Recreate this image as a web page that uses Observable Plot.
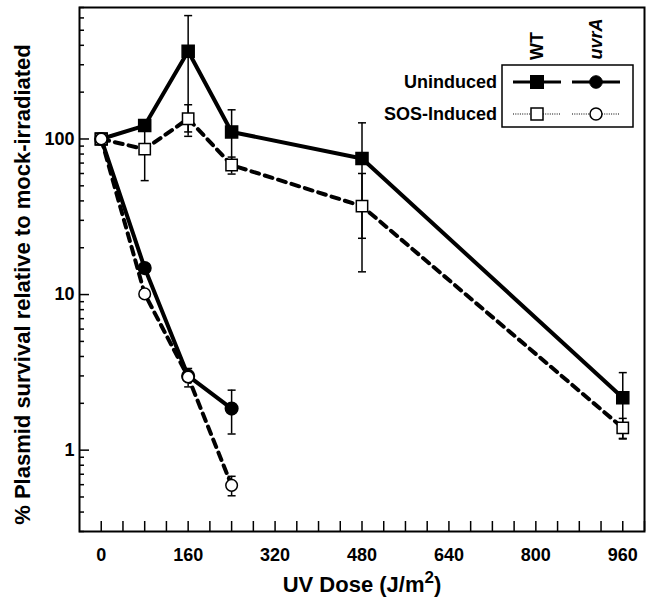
<!DOCTYPE html>
<html><head><meta charset="utf-8">
<script src="https://cdn.jsdelivr.net/npm/d3@7"></script>
<script src="https://cdn.jsdelivr.net/npm/@observablehq/plot@0.6"></script>
<style>
body{margin:0;background:#fff;}
#wrap{position:relative;width:654px;height:605px;}
#wrap svg{position:absolute;left:0;top:0;}
</style></head><body><div id="wrap"></div>
<script>
// ---- data ----
const doses = [0, 80, 160, 240, 480, 960];
const wtUninduced = [100, 122, 366, 111, 75, 2.17];
const wtUninducedErr = [0, 0, 255, 43, 52, 0.98];
const wtInduced = [100, 86, 135, 68, 37, 1.39];
const wtInducedErr = [0, 32, 31, 8.5, 23, 0.21];
const uvrDoses = [0, 80, 160, 240];
const uvrUninduced = [100, 14.8, 3.0, 1.85];
const uvrUninducedErr = [0, 0, 0, 0.58];
const uvrInduced = [100, 10.1, 2.95, 0.594];
const uvrInducedErr = [0, 0, 0.4, 0.085];
const xLabelTicks = [0, 160, 320, 480, 640, 800, 960];
const yLabelTicks = [1, 10, 100];
const xTitle = "UV Dose (J/m2)";
const yTitle = "% Plasmid survival relative to mock-irradiated";
const legendStrains = ["WT", "uvrA"];
const legendConds = ["Uninduced", "SOS-Induced"];

const series = (xs, ys, es) => xs.map((x, i) => ({dose: x, value: ys[i], err: es[i]}));
const wtU = series(doses, wtUninduced, wtUninducedErr);
const wtI = series(doses, wtInduced, wtInducedErr);
const uvU = series(uvrDoses, uvrUninduced, uvrUninducedErr);
const uvI = series(uvrDoses, uvrInduced, uvrInducedErr);
const errs = [...wtU, ...wtI, ...uvU, ...uvI].filter(d => d.err > 0);
const caps = errs.flatMap(d => [{dose: d.dose, value: d.value + d.err}, {dose: d.dose, value: d.value - d.err}]);

const yMajor = yLabelTicks;
const yMinor = [];
for (const dec of [0.1, 1, 10, 100]) for (let k = 2; k <= 9; k++) { const v = +(k * dec).toPrecision(3); if (v >= 0.3 && v <= 700) yMinor.push(v); }
const xTicks = d3.range(0, 1001, 40);

const capSymbol = {draw(ctx, size) { const w = Math.sqrt(size / Math.PI); ctx.moveTo(-w, 0); ctx.lineTo(w, 0); }};
const font = "Liberation Sans, Arial, Helvetica, sans-serif";

const chart = Plot.plot({
  width: 654, height: 605,
  marginLeft: 79, marginRight: 10, marginTop: 7, marginBottom: 74,
  style: {fontFamily: font, fontSize: "18px", background: "white", color: "black"},
  x: {domain: [-40, 1000], label: null},
  y: {type: "log", domain: [0.3, 700], label: null},
  marks: [
    Plot.axisY({ticks: yMinor, tickSize: 5, dx: 5, tickFormat: () => "", label: null, strokeWidth: 1.5}),
    Plot.axisY({ticks: yMajor, tickSize: 10, dx: 10, tickFormat: () => "", label: null, strokeWidth: 1.5}),
    Plot.axisY({ticks: yLabelTicks, tickSize: 0, tickPadding: 5, tickFormat: d => String(d), fontSize: 18, fontWeight: "bold", label: null}),
    Plot.axisX({ticks: xTicks, tickSize: 10, dy: -10, tickFormat: () => "", label: null, strokeWidth: 1.5}),
    Plot.axisX({ticks: xLabelTicks, tickSize: 0, tickPadding: 17, tickFormat: d => String(d), fontSize: 18, fontWeight: "bold", label: null}),
    Plot.frame({strokeWidth: 2}),
    Plot.line(wtU, {x: "dose", y: "value", stroke: "black", strokeWidth: 4}),
    Plot.line(uvU, {x: "dose", y: "value", stroke: "black", strokeWidth: 4}),
    Plot.line(wtI, {x: "dose", y: "value", stroke: "black", strokeWidth: 4, strokeDasharray: "8,6"}),
    Plot.line(uvI, {x: "dose", y: "value", stroke: "black", strokeWidth: 4, strokeDasharray: "8,6"}),
    Plot.ruleX(errs, {x: "dose", y1: d => d.value - d.err, y2: d => d.value + d.err, stroke: "black", strokeWidth: 1.5}),
    Plot.dot(caps, {x: "dose", y: "value", symbol: capSymbol, r: 4, stroke: "black", strokeWidth: 1.5, fill: "none"}),
    Plot.dot(wtU, {x: "dose", y: "value", symbol: "square", r: 6.8, fill: "black", stroke: "black"}),
    Plot.dot(uvU, {x: "dose", y: "value", symbol: "circle", r: 6.3, fill: "black", stroke: "black"}),
    Plot.dot(wtI, {x: "dose", y: "value", symbol: "square", r: 6.4, fill: "white", stroke: "black", strokeWidth: 1.5}),
    Plot.dot(uvI, {x: "dose", y: "value", symbol: "circle", r: 5.8, fill: "white", stroke: "black", strokeWidth: 1.5}),
    Plot.text([yTitle], {text: d => d, frameAnchor: "left", textAnchor: "middle", dx: -57, dy: 15, rotate: -90, fontSize: 22, fontWeight: "bold", fill: "black"}),
    Plot.text([xTitle], {text: d => d, frameAnchor: "bottom", textAnchor: "middle", dy: 60, fontSize: 22, fontWeight: "bold", fill: "black"})
  ]
});
document.getElementById("wrap").appendChild(chart);

// superscript in x title
const NS = "http://www.w3.org/2000/svg";
const tt = [...chart.querySelectorAll("text")].find(el => el.textContent === xTitle);
if (tt) {
  tt.textContent = "UV Dose (J/m";
  const sup = document.createElementNS(NS, "tspan");
  sup.setAttribute("dy", "-9"); sup.setAttribute("font-size", "17"); sup.textContent = "2";
  const close = document.createElementNS(NS, "tspan");
  close.setAttribute("dy", "9"); close.textContent = ")";
  tt.appendChild(sup); tt.appendChild(close);
}

// ---- legend overlay ----
const lg = d3.select("#wrap").append("svg").attr("width", 654).attr("height", 605)
  .style("pointer-events", "none").attr("font-family", font).attr("font-weight", "bold");
lg.append("rect").attr("x", 502).attr("y", 65).attr("width", 131).attr("height", 62)
  .attr("fill", "white").attr("stroke", "black").attr("stroke-width", 1.5);
const colX = [537, 596];
const rowY = [82, 114];
legendStrains.forEach((s, i) => {
  lg.append("text").attr("transform", `translate(${colX[i]},${i === 0 ? 46 : 39}) rotate(-90)`)
    .attr("text-anchor", "middle").attr("dy", "0.35em").attr("font-size", 18)
    .attr("font-style", i === 1 ? "italic" : "normal").text(s);
});
legendConds.forEach((c, j) => {
  lg.append("text").attr("x", 497).attr("y", rowY[j]).attr("dy", "0.35em")
    .attr("text-anchor", "end").attr("font-size", 18).text(c);
  colX.forEach((cx, i) => {
    lg.append("line").attr("x1", cx - 24).attr("x2", cx + 24).attr("y1", rowY[j]).attr("y2", rowY[j])
      .attr("stroke", "black").attr("stroke-width", j === 0 ? 3 : 1.2)
      .attr("stroke-dasharray", j === 0 ? null : "1,1.3");
    const filled = j === 0;
    if (i === 0) {
      const s = filled ? 13 : 12;
      lg.append("rect").attr("x", cx - s / 2).attr("y", rowY[j] - s / 2).attr("width", s).attr("height", s)
        .attr("fill", filled ? "black" : "white").attr("stroke", "black").attr("stroke-width", filled ? 1 : 1.5);
    } else {
      lg.append("circle").attr("cx", cx).attr("cy", rowY[j]).attr("r", filled ? 6.3 : 6)
        .attr("fill", filled ? "black" : "white").attr("stroke", "black").attr("stroke-width", filled ? 1 : 1.5);
    }
  });
});
</script></body></html>
